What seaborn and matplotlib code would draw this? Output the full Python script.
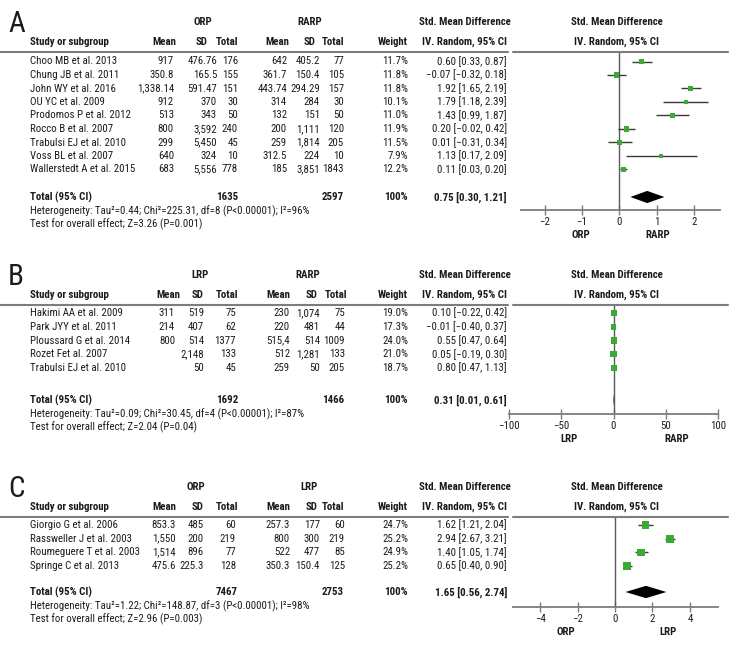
import numpy as np
import pandas as pd
import matplotlib
matplotlib.use("Agg")
import matplotlib.pyplot as plt
import seaborn as sns
from matplotlib.lines import Line2D

# ---------------- data ----------------
# Panel A: ORP vs RARP
studies_a = ["Choo MB et al. 2013", "Chung JB et al. 2011", "John WY et al. 2016", "OU YC et al. 2009",
             "Prodomos P et al. 2012", "Rocco B et al. 2007", "Trabulsi EJ et al. 2010",
             "Voss BL et al. 2007", "Wallerstedt A et al. 2015"]
mean1_a = ["917", "350.8", "1,338.14", "912", "513", "800", "299", "640", "683"]
sd1_a = ["476.76", "165.5", "591.47", "370", "343", "3,592", "5,450", "324", "5,556"]
n1_a = [176, 155, 151, 30, 50, 240, 45, 10, 778]
mean2_a = ["642", "361.7", "443.74", "314", "132", "200", "259", "312.5", "185"]
sd2_a = ["405.2", "150.4", "294.29", "284", "151", "1,111", "1,814", "224", "3,851"]
n2_a = [77, 105, 157, 30, 50, 120, 205, 10, 1843]
weight_a = [11.7, 11.8, 11.8, 10.1, 11.0, 11.9, 11.5, 7.9, 12.2]
smd_a = [0.60, -0.07, 1.92, 1.79, 1.43, 0.20, 0.01, 1.13, 0.11]
lo_a = [0.33, -0.32, 1.65, 1.18, 0.99, -0.02, -0.31, 0.17, 0.03]
hi_a = [0.87, 0.18, 2.19, 2.39, 1.87, 0.42, 0.34, 2.09, 0.20]
total_a = [1635, 2597, 0.75, 0.30, 1.21]
het_a = "Heterogeneity: Tau²=0.44; Chi²=225.31, df=8 (P<0.00001); I²=96%"
test_a = "Test for overall effect; Z=3.26 (P=0.001)"
ticks_a = [-2, -1, 0, 1, 2]

# Panel B: LRP vs RARP
studies_b = ["Hakimi AA et al. 2009", "Park JYY et al. 2011", "Ploussard G et al. 2014",
             "Rozet Fet al. 2007", "Trabulsi EJ et al. 2010"]
mean1_b = ["311", "214", "800", "", ""]
sd1_b = ["519", "407", "514", "2,148", "50"]
n1_b = [75, 62, 1377, 133, 45]
mean2_b = ["230", "220", "515,4", "512", "259"]
sd2_b = ["1,074", "481", "514", "1,281", "50"]
n2_b = [75, 44, 1009, 133, 205]
weight_b = [19.0, 17.3, 24.0, 21.0, 18.7]
smd_b = [0.10, -0.01, 0.55, 0.05, 0.80]
lo_b = [-0.22, -0.40, 0.47, -0.19, 0.47]
hi_b = [0.42, 0.37, 0.64, 0.30, 1.13]
total_b = [1692, 1466, 0.31, 0.01, 0.61]
het_b = "Heterogeneity: Tau²=0.09; Chi²=30.45, df=4 (P<0.00001); I²=87%"
test_b = "Test for overall effect; Z=2.04 (P=0.04)"
ticks_b = [-100, -50, 0, 50, 100]

# Panel C: ORP vs LRP
studies_c = ["Giorgio G et al. 2006", "Rassweller J et al. 2003", "Roumeguere T et al. 2003",
             "Springe C et al. 2013"]
mean1_c = ["853.3", "1,550", "1,514", "475.6"]
sd1_c = ["485", "200", "896", "225.3"]
n1_c = [60, 219, 77, 128]
mean2_c = ["257.3", "800", "522", "350.3"]
sd2_c = ["177", "300", "477", "150.4"]
n2_c = [60, 219, 85, 125]
weight_c = [24.7, 25.2, 24.9, 25.2]
smd_c = [1.62, 2.94, 1.40, 0.65]
lo_c = [1.21, 2.67, 1.05, 0.40]
hi_c = [2.04, 3.21, 1.74, 0.90]
total_c = [7467, 2753, 1.65, 0.56, 2.74]
het_c = "Heterogeneity: Tau²=1.22; Chi²=148.87, df=3 (P<0.00001); I²=98%"
test_c = "Test for overall effect; Z=2.96 (P=0.003)"
ticks_c = [-4, -2, 0, 2, 4]

# ---------------- style ----------------
sns.set_theme(style="white")
plt.rcParams['font.family'] = ['Roboto Condensed', 'Noto Sans Condensed', 'Liberation Sans Narrow',
                               'Liberation Sans', 'DejaVu Sans']
plt.rcParams['font.stretch'] = 'condensed'
plt.rcParams['axes.unicode_minus'] = True

W, H = 756, 660
fig = plt.figure(figsize=(W / 100, H / 100), dpi=100)
fig.patch.set_facecolor("white")

TXT = "#1e1a1b"
GREEN = "#3aaa35"
LINEC = "#7d7d7d"
FS = 7.8


def fmt(v):
    return f"{v:.2f}".replace("-", "\u2212")


def T(x, y, s, ha="left", bold=False, size=FS, color=TXT):
    fig.text(x / W, 1 - y / H, s, ha=ha, va="center", fontsize=size,
             fontweight="bold" if bold else "normal", color=color)


def hline(x0, x1, y, lw=1.5, color=LINEC):
    fig.add_artist(Line2D([x0 / W, x1 / W], [1 - y / H, 1 - y / H], color=color, lw=lw))


def panel(letter, g1, g2, studies, m1, s1, n1, m2, s2, n2, w, est, lo, hi, tot, het, test,
          ticks, lay):
    top, r0, sp = lay["top"], lay["row0"], lay["sp"]
    gy, cy, line_y = top, top + 20, top + 30
    # panel letter and group headers
    T(lay["letter_x"], top + 2, letter, size=21)
    T(lay["g1x"], gy, g1, ha="center", bold=True)
    T(lay["g2x"], gy, g2, ha="center", bold=True)
    T(465, gy, "Std. Mean Difference", ha="center", bold=True)
    T(617, gy, "Std. Mean Difference", ha="center", bold=True)
    # column headers
    T(30, cy, "Study or subgroup", bold=True)
    hx = lay["hx"]
    for x, s in zip(hx, ["Mean", "SD", "Total", "Mean", "SD", "Total"]):
        T(x, cy, s, ha="right", bold=True)
    T(408, cy, "Weight", ha="right", bold=True)
    T(507, cy, "IV. Random, 95% CI", ha="right", bold=True)
    T(617, cy, "IV. Random, 95% CI", ha="center", bold=True)
    hline(0, 508, line_y)
    hline(513, 728, line_y)
    # rows
    vx = lay["vx"]
    for i in range(len(studies)):
        y = r0 + i * sp
        T(30, y, studies[i])
        for x, s in zip(vx, [m1[i], s1[i], str(n1[i]), m2[i], s2[i], str(n2[i])]):
            T(x, y, s, ha="right")
        T(408, y, f"{w[i]:.1f}%", ha="right")
        T(507, y, f"{fmt(est[i])} [{fmt(lo[i])}, {fmt(hi[i])}]", ha="right")
    ty = lay["total_y"]
    T(30, ty, "Total (95% CI)", bold=True)
    T(238, ty, str(tot[0]), ha="right", bold=True)
    T(344, ty, str(tot[1]), ha="right", bold=True)
    T(408, ty, "100%", ha="right", bold=True)
    T(507, ty, f"{fmt(tot[2])} [{fmt(tot[3])}, {fmt(tot[4])}]", ha="right", bold=True)
    T(30, ty + 14, het)
    T(30, ty + 27, test)

    # forest axes
    axl, axr, axb = lay["axl"], lay["axr"], lay["axis_y"]
    ax = fig.add_axes([axl / W, 1 - axb / H, (axr - axl) / W, (axb - line_y) / H])
    ax.patch.set_alpha(0)
    ax.set_xlim(lay["xlim"])
    ax.set_ylim((axb - r0) / sp, (line_y - r0) / sp)
    for s in ["top", "left", "right"]:
        ax.spines[s].set_visible(False)
    ax.spines["bottom"].set_color(LINEC)
    ax.spines["bottom"].set_linewidth(1.3)
    ax.axvline(0, color="#5a5a5a", lw=1.0, zorder=1)
    df = pd.DataFrame({"row": np.arange(len(studies)), "est": est, "lo": lo, "hi": hi, "weight": w})
    ax.hlines(df["row"], df["lo"], df["hi"], color="#3a3a3a", lw=1.0, zorder=2)
    sns.scatterplot(data=df, x="est", y="row", size="weight", sizes=lay["sizes"],
                    size_norm=(0, max(w)), marker="s", color=GREEN, linewidth=0,
                    legend=False, ax=ax, zorder=3)
    ti = (ty - r0) / sp
    hh = 0.45
    ax.fill([tot[3], tot[2], tot[4], tot[2]], [ti, ti - hh, ti, ti + hh], color="black",
            lw=0, zorder=4)
    ax.set_xticks(ticks)
    ax.set_xticklabels([str(t).replace("-", "\u2212") for t in ticks])
    ax.tick_params(axis="x", bottom=True, direction="inout", length=7, width=1.0,
                   color=LINEC, labelsize=FS, pad=1.5, labelcolor=TXT)
    ax.set_yticks([])
    ax.set_xlabel("")
    ax.set_ylabel("")
    T(lay["lab1x"], axb + 25, g1, ha="center", bold=True)
    T(lay["lab2x"], axb + 25, g2, ha="center", bold=True)


panel("A", "ORP", "RARP", studies_a, mean1_a, sd1_a, n1_a, mean2_a, sd2_a, n2_a, weight_a,
      smd_a, lo_a, hi_a, total_a, het_a, test_a, ticks_a,
      dict(top=22, row0=61.5, sp=13.5, total_y=197, axis_y=210, letter_x=8,
           g1x=203, g2x=310, hx=[176, 207, 238, 289, 315, 344],
           vx=[174, 217, 238, 287, 320, 344],
           axl=521, axr=720, xlim=(-2.63, 2.70), sizes=(0, 14),
           lab1x=581, lab2x=658))

panel("B", "LRP", "RARP", studies_b, mean1_b, sd1_b, n1_b, mean2_b, sd2_b, n2_b, weight_b,
      smd_b, lo_b, hi_b, total_b, het_b, test_b, ticks_b,
      dict(top=275, row0=313, sp=13.75, total_y=400, axis_y=414, letter_x=8,
           g1x=200, g2x=308, hx=[180, 203, 238, 290, 317, 347],
           vx=[175, 204, 236, 290, 320, 345],
           axl=509, axr=718, xlim=(-100, 100), sizes=(0, 24),
           lab1x=569, lab2x=677))

panel("C", "ORP", "LRP", studies_c, mean1_c, sd1_c, n1_c, mean2_c, sd2_c, n2_c, weight_c,
      smd_c, lo_c, hi_c, total_c, het_c, test_c, ticks_c,
      dict(top=487, row0=525, sp=13.7, total_y=592, axis_y=607, letter_x=8,
           g1x=196, g2x=309, hx=[176, 204, 238, 290, 317, 344],
           vx=[176, 204, 236, 290, 320, 345],
           axl=513, axr=718, xlim=(-5.45, 5.5), sizes=(0, 30),
           lab1x=566, lab2x=668))

fig.savefig("out.png", dpi=100, facecolor="white")
